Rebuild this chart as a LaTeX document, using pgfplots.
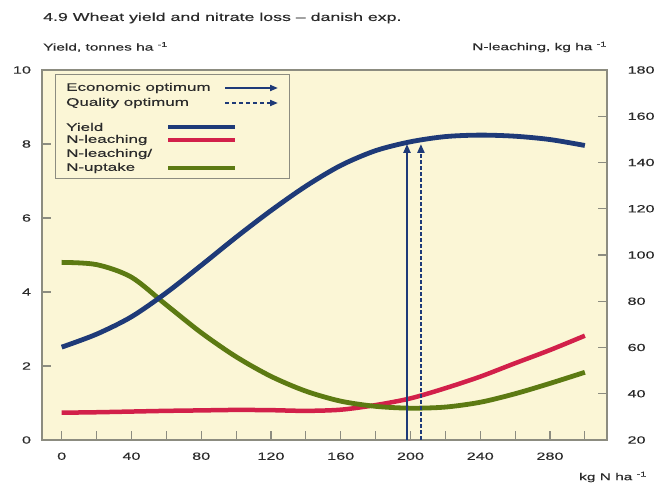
\documentclass[border=0pt]{standalone}
\usepackage{fontspec}
\setmainfont[FakeStretch=1.55,FakeBold=0.35]{Liberation Sans}
\usepackage{pgfplots}
\pgfplotsset{compat=1.18}
\usetikzlibrary{arrows.meta}
\definecolor{cream}{HTML}{FBF6D6}
\definecolor{navy}{HTML}{1E3A78}
\definecolor{crim}{HTML}{D2204A}
\definecolor{olive}{HTML}{5C7A12}
\definecolor{framegray}{HTML}{8C8C80}
\definecolor{txt}{HTML}{2A2A2A}
\newcommand{\tickfont}{\fontsize{10.5}{12}\selectfont}
\newcommand{\labfont}{\fontsize{10}{12}\selectfont}
\newcommand{\legfont}{\fontsize{11}{13}\selectfont}
\newcommand{\titfont}{\fontsize{11.5}{13}\selectfont}
\begin{document}
\begin{tikzpicture}[x=1bp,y=1bp]
\useasboundingbox (-42,-43) rectangle (615,440);
% right axis: N-leaching, kg/ha
\begin{axis}[at={(0,0)},anchor=south west,
  scale only axis, width=565bp, height=370bp,
  xmin=-11.3, xmax=312.7, ymin=20, ymax=180,
  axis background/.style={fill=cream},
  axis x line=none, axis y line*=right,
  axis line style={framegray, line width=1.1bp},
  every tick/.style={framegray, line width=1.1bp},
  major tick length=9bp, tick align=inside,
  ytick={20,40,...,180},
  /pgf/number format/assume math mode=true,
  tick label style={font=\tickfont, text=txt},
  yticklabel style={xshift=17bp},
]
\addplot[crim, line width=4.5bp, smooth] coordinates {
(0,31.8) (20,32.0) (40,32.3) (60,32.6) (80,32.8) (100,33.0) (120,32.9)
(140,32.6) (160,33.1) (180,35.1) (200,38.0) (220,42.4) (240,47.4)
(260,53.2) (280,58.9) (300,65.1)};
\end{axis}
% left axis: yield
\begin{axis}[at={(0,0)},anchor=south west,
  scale only axis, width=565bp, height=370bp,
  xmin=-11.3, xmax=312.7, ymin=0, ymax=10,
  axis line style={framegray, line width=1.1bp},
  every tick/.style={framegray, line width=1.1bp},
  major tick length=9bp, minor tick length=9bp, tick align=inside,
  xtick={0,40,...,280}, minor xtick={20,60,...,300},
  ytick={0,2,...,10}, xtick pos=bottom, ytick pos=left,
  /pgf/number format/assume math mode=true,
  tick label style={font=\tickfont, text=txt},
  xticklabel style={yshift=-9bp},
  yticklabel style={xshift=-7.5bp},
]
\addplot[olive, line width=4.8bp, smooth] coordinates {
(0,4.80) (20,4.74) (40,4.40) (60,3.65) (80,2.90) (100,2.25) (120,1.72)
(140,1.32) (160,1.05) (180,0.91) (200,0.86) (220,0.89) (240,1.02)
(260,1.25) (280,1.53) (300,1.83)};
\addplot[navy, line width=4.8bp, smooth] coordinates {
(0,2.51) (20,2.86) (40,3.33) (60,3.98) (80,4.72) (100,5.48) (120,6.20)
(140,6.86) (160,7.42) (180,7.82) (200,8.06) (220,8.20) (240,8.24)
(260,8.21) (280,8.12) (300,7.96)};
\addplot[navy, line width=2.2bp, -{Triangle[length=9bp,width=7bp]}]
  coordinates {(198,0) (198,8.0)};
\addplot[navy, line width=2.2bp, dash pattern=on 3.5bp off 2.5bp,
  -{Triangle[length=9bp,width=7bp]}]
  coordinates {(206,0) (206,8.0)};
\end{axis}
% legend
\draw[framegray, line width=0.9bp, fill=cream] (13,262) rectangle (247,366);
\begin{scope}[every node/.style={anchor=west, inner sep=0, font=\legfont, text=txt}]
\node at (24,352) {Economic optimum};
\node at (24,337) {Quality optimum};
\node at (24,313) {Yield};
\node at (24,300) {N-leaching};
\node at (24,286) {N-leaching/};
\node at (24,272) {N-uptake};
\end{scope}
\draw[navy, line width=1.8bp, -{Triangle[length=8bp,width=6bp]}] (183,352) -- (236,352);
\draw[navy, line width=1.8bp, dash pattern=on 4bp off 3bp, -{Triangle[length=8bp,width=6bp]}] (183,337) -- (236,337);
\draw[navy, line width=4bp] (126,313) -- (193,313);
\draw[crim, line width=4bp] (126,300) -- (193,300);
\draw[olive, line width=4bp] (126,272) -- (193,272);
% titles and labels
\node[anchor=west, inner sep=0, font=\titfont, text=txt] at (1,422) {4.9 Wheat yield and nitrate loss – danish exp.};
\node[anchor=west, inner sep=0, font=\labfont, text=txt] at (1,393) {Yield, tonnes ha \textsuperscript{-1}};
\node[anchor=east, inner sep=0, font=\labfont, text=txt] at (565,393) {N-leaching, kg ha \textsuperscript{-1}};
\node[anchor=east, inner sep=0, font=\labfont, text=txt] at (605,-37) {kg N ha \textsuperscript{-1}};
\end{tikzpicture}
\end{document}
